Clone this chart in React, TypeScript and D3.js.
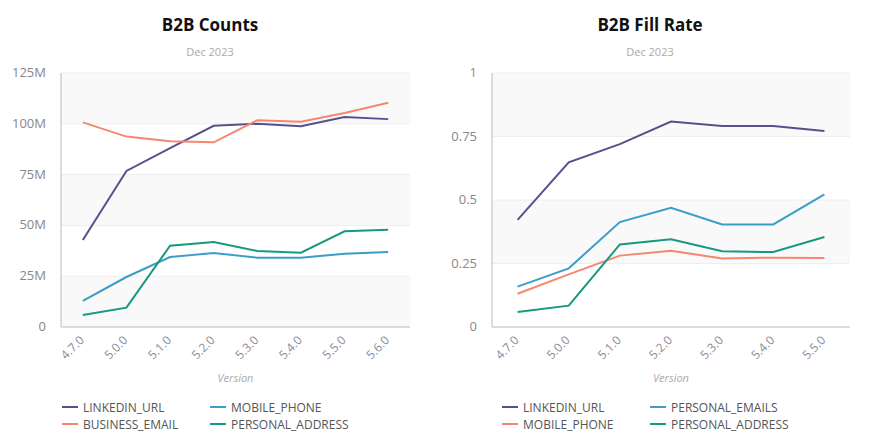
import { useRef, useEffect } from 'react';
import * as d3 from 'd3';

// Left chart: B2B Counts (millions)
const countVersions = ['4.7.0', '5.0.0', '5.1.0', '5.2.0', '5.3.0', '5.4.0', '5.5.0', '5.6.0'];
const countLinkedin = [42.8, 76.8, 88, 99, 100, 98.8, 103.3, 102.3];
const countBusinessEmail = [100.7, 93.7, 91.4, 90.9, 101.8, 101, 105.3, 110.4];
const countMobilePhone = [12.9, 24.6, 34.4, 36.4, 34.1, 34.1, 36.1, 36.9];
const countPersonalAddress = [5.9, 9.5, 40, 41.8, 37.4, 36.6, 47.1, 47.9];
const countTicks = [0, 25, 50, 75, 100, 125];

// Right chart: B2B Fill Rate
const rateVersions = ['4.7.0', '5.0.0', '5.1.0', '5.2.0', '5.3.0', '5.4.0', '5.5.0'];
const rateLinkedin = [0.422, 0.648, 0.72, 0.809, 0.791, 0.791, 0.772];
const rateMobilePhone = [0.131, 0.207, 0.281, 0.3, 0.27, 0.273, 0.272];
const ratePersonalEmails = [0.159, 0.231, 0.413, 0.469, 0.404, 0.404, 0.522];
const ratePersonalAddress = [0.059, 0.084, 0.325, 0.345, 0.298, 0.295, 0.354];
const rateTicks = [0, 0.25, 0.5, 0.75, 1];

const PURPLE = '#58508d';
const SALMON = '#f6876f';
const BLUE = '#3d9dc9';
const TEAL = '#17997f';

interface Series {
  name: string;
  color: string;
  values: number[];
}

interface PanelProps {
  left: number;
  right: number;
  titleX: number;
  legendX: number;
  title: string;
  versions: string[];
  series: Series[];
  ticks: number[];
  tickFormat: (d: number) => string;
}

const FONT = '"Open Sans", "Noto Sans", sans-serif';

function drawPanel(svg: d3.Selection<SVGSVGElement, unknown, null, undefined>, p: PanelProps) {
  const { left, right } = p;
  const top = 73;
  const bottom = 327;
  const g = svg.append('g');

  const x = d3.scalePoint<string>().domain(p.versions).range([left, right]).padding(0.5);
  const y = d3.scaleLinear().domain([0, p.ticks[p.ticks.length - 1]]).range([bottom, top]);

  // alternating bands, starting shaded at the top
  for (let i = 0; i < p.ticks.length - 1; i++) {
    const fromTop = p.ticks.length - 2 - i;
    if (fromTop % 2 === 0) {
      g.append('rect')
        .attr('x', left)
        .attr('y', y(p.ticks[i + 1]))
        .attr('width', right - left)
        .attr('height', y(p.ticks[i]) - y(p.ticks[i + 1]))
        .attr('fill', '#f9f9f9');
    }
  }

  // grid lines
  p.ticks.slice(1).forEach((t) => {
    g.append('line')
      .attr('x1', left).attr('x2', right)
      .attr('y1', y(t)).attr('y2', y(t))
      .attr('stroke', '#eeeeee');
  });

  // axis lines
  g.append('line').attr('x1', left).attr('x2', left).attr('y1', top).attr('y2', bottom).attr('stroke', '#bbbbbb');
  g.append('line').attr('x1', left).attr('x2', right).attr('y1', bottom).attr('y2', bottom).attr('stroke', '#bbbbbb');

  // y tick labels
  g.selectAll('.ytick')
    .data(p.ticks)
    .join('text')
    .attr('x', left - 15)
    .attr('y', (d) => y(d) + 4)
    .attr('text-anchor', 'end')
    .attr('font-size', 13)
    .attr('font-family', FONT)
    .attr('fill', '#888888')
    .text(p.tickFormat);

  // x tick labels, rotated
  g.selectAll('.xtick')
    .data(p.versions)
    .join('text')
    .attr('transform', (d) => `translate(${x(d)! + 2},${bottom + 14}) rotate(-45)`)
    .attr('text-anchor', 'end')
    .attr('font-size', 12)
    .attr('font-family', FONT)
    .attr('fill', '#8c8c9a')
    .text((d) => d);

  g.append('text')
    .attr('x', (left + right) / 2)
    .attr('y', 382)
    .attr('text-anchor', 'middle')
    .attr('font-size', 11)
    .attr('font-style', 'italic')
    .attr('font-family', FONT)
    .attr('fill', '#aaaaaa')
    .text('Version');

  // lines
  const line = d3
    .line<number>()
    .x((_, i) => x(p.versions[i])!)
    .y((d) => y(d));
  p.series.forEach((s) => {
    g.append('path')
      .datum(s.values)
      .attr('d', line)
      .attr('fill', 'none')
      .attr('stroke', s.color)
      .attr('stroke-width', 2);
  });

  // titles
  g.append('text')
    .attr('x', p.titleX)
    .attr('y', 31)
    .attr('text-anchor', 'middle')
    .attr('font-size', 17)
    .attr('font-weight', 'bold')
    .attr('font-family', FONT)
    .attr('fill', '#111111')
    .text(p.title);
  g.append('text')
    .attr('x', p.titleX)
    .attr('y', 56)
    .attr('text-anchor', 'middle')
    .attr('font-size', 11)
    .attr('font-family', FONT)
    .attr('fill', '#aaaaaa')
    .text('Dec 2023');

  // legend, column-major two rows
  p.series.forEach((s, k) => {
    const col = Math.floor(k / 2);
    const row = k % 2;
    const xx = p.legendX + col * 148;
    const yy = 407 + row * 17;
    g.append('line')
      .attr('x1', xx).attr('x2', xx + 16)
      .attr('y1', yy).attr('y2', yy)
      .attr('stroke', s.color)
      .attr('stroke-width', 2);
    g.append('text')
      .attr('x', xx + 21)
      .attr('y', yy + 4.5)
      .attr('font-size', 12)
      .attr('font-family', FONT)
      .attr('fill', '#555555')
      .text(s.name);
  });
}

export default function App() {
  const svgRef = useRef<SVGSVGElement | null>(null);

  useEffect(() => {
    const svg = d3.select(svgRef.current!);
    svg.selectAll('*').remove();

    drawPanel(svg, {
      left: 61,
      right: 410,
      titleX: 210,
      legendX: 62,
      title: 'B2B Counts',
      versions: countVersions,
      series: [
        { name: 'LINKEDIN_URL', color: PURPLE, values: countLinkedin },
        { name: 'BUSINESS_EMAIL', color: SALMON, values: countBusinessEmail },
        { name: 'MOBILE_PHONE', color: BLUE, values: countMobilePhone },
        { name: 'PERSONAL_ADDRESS', color: TEAL, values: countPersonalAddress },
      ],
      ticks: countTicks,
      tickFormat: (d) => (d === 0 ? '0' : `${d}M`),
    });

    drawPanel(svg, {
      left: 492,
      right: 850,
      titleX: 650,
      legendX: 502,
      title: 'B2B Fill Rate',
      versions: rateVersions,
      series: [
        { name: 'LINKEDIN_URL', color: PURPLE, values: rateLinkedin },
        { name: 'MOBILE_PHONE', color: SALMON, values: rateMobilePhone },
        { name: 'PERSONAL_EMAILS', color: BLUE, values: ratePersonalEmails },
        { name: 'PERSONAL_ADDRESS', color: TEAL, values: ratePersonalAddress },
      ],
      ticks: rateTicks,
      tickFormat: (d) => `${d}`,
    });
  }, []);

  return (
    <svg
      ref={svgRef}
      width={869}
      height={444}
      style={{ position: 'absolute', left: 0, top: 0, background: '#fff' }}
    />
  );
}
